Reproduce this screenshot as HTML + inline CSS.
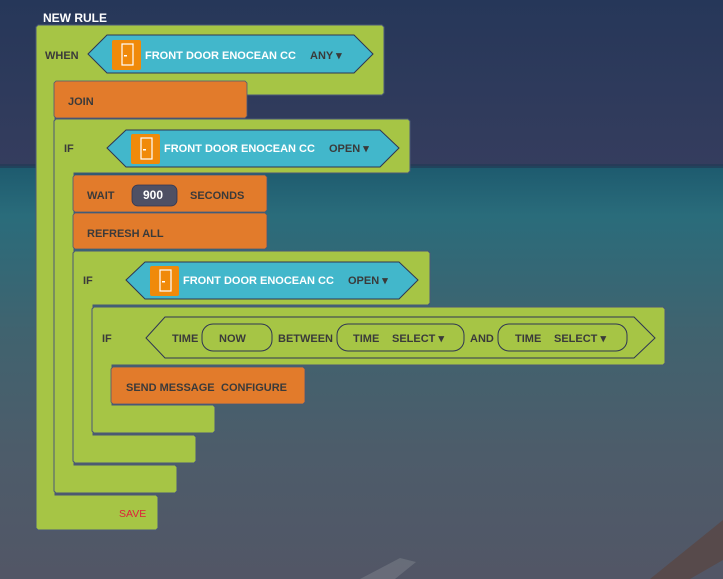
<!DOCTYPE html>
<html><head><meta charset="utf-8"><style>
html,body{margin:0;padding:0;}
body{width:723px;height:579px;overflow:hidden;background:#2f3a5a;}
svg{display:block;font-family:"Liberation Sans",sans-serif;}
</style></head><body>
<svg width="723" height="579" viewBox="0 0 723 579" xmlns="http://www.w3.org/2000/svg">
<defs>
<linearGradient id="sky" x1="0" y1="0" x2="0" y2="1">
<stop offset="0" stop-color="#263759"/><stop offset="1" stop-color="#353d5e"/>
</linearGradient>
<linearGradient id="sea" x1="0" y1="0" x2="0" y2="1">
<stop offset="0" stop-color="#1d5a6e"/><stop offset="0.12" stop-color="#2a6c7b"/>
<stop offset="0.4" stop-color="#40636f"/><stop offset="0.7" stop-color="#4d5c6a"/><stop offset="1" stop-color="#525666"/>
</linearGradient>
</defs>
<rect x="0" y="0" width="723" height="167" fill="url(#sky)"/>
<rect x="0" y="166" width="723" height="413" fill="url(#sea)"/>
<rect x="0" y="164" width="723" height="4" fill="#223a55" opacity="0.7"/>
<path d="M650 579 L723 520 L723 560 L690 579 Z" fill="#5a4440" opacity="0.7"/>
<path d="M360 579 L400 558 L416 562 L395 579 Z" fill="#8a8f95" opacity="0.4"/>

<text x="43" y="22" font-size="12" font-weight="bold" fill="#fff">NEW RULE</text>

<g stroke="#4a5878" stroke-width="1">
<path d="M38 25 H382 L384 27 V93 L382 95 H55 V495 H156 L158 497 V528 L156 530 H38 L36 528 V27 Z" fill="#a6c545"/>
<path d="M56 119 H408 L410 121 V171 L408 173 H74 V465 H175 L177 467 V491 L175 493 H56 L54 491 V121 Z" fill="#a6c545"/>
<path d="M75 251 H428 L430 253 V303 L428 305 H93 V435 H194 L196 437 V461 L194 463 H75 L73 461 V253 Z" fill="#a6c545"/>
<path d="M94 307 H663 L665 309 V363 L663 365 H112 V405 H213 L215 407 V431 L213 433 H94 L92 431 V309 Z" fill="#a6c545"/>
</g>
<g stroke="#4a5878" stroke-width="0.8" fill="#e27b2b">
<path d="M56 81 H245 L247 83 V116 L245 118 H56 L54 116 V83 Z"/>
<path d="M75 175 H265 L267 177 V210 L265 212 H75 L73 210 V177 Z"/>
<path d="M75 213 H265 L267 215 V247 L265 249 H75 L73 247 V215 Z"/>
<path d="M113 367 H303 L305 369 V402 L303 404 H113 L111 402 V369 Z"/>
</g>

<g fill="#42b7cb" stroke="#2e3553" stroke-width="1">
<path d="M88 54 L107 35 H354 L373 54 L354 73 H107 Z"/>
<path d="M107 148 L126 130 H380 L399 148 L380 167 H126 Z"/>
<path d="M126 280 L145 262 H399 L418 280 L399 299 H145 Z"/>
</g>
<g>
<rect x="112" y="40" width="29" height="30" rx="2" fill="#f08a0a"/>
<rect x="122" y="44" width="11" height="21" fill="none" stroke="#fff" stroke-width="1.2"/>
<rect x="124" y="55" width="3" height="1.5" fill="#fff"/>
<rect x="131" y="134" width="29" height="30" rx="2" fill="#f08a0a"/>
<rect x="141" y="138" width="11" height="21" fill="none" stroke="#fff" stroke-width="1.2"/>
<rect x="143" y="149" width="3" height="1.5" fill="#fff"/>
<rect x="150" y="266" width="29" height="30" rx="2" fill="#f08a0a"/>
<rect x="160" y="270" width="11" height="21" fill="none" stroke="#fff" stroke-width="1.2"/>
<rect x="162" y="281" width="3" height="1.5" fill="#fff"/>
</g>

<g fill="none" stroke="#2e3553" stroke-width="1">
<path d="M146 338 L165 317 H634 L655 338 L634 358 H165 Z" fill="#a6c545"/>
<rect x="202" y="324" width="70" height="27" rx="11"/>
<rect x="337" y="324" width="127" height="27" rx="11"/>
<rect x="498" y="324" width="129" height="27" rx="11"/>
</g>
<rect x="132" y="185" width="45" height="21" rx="6" fill="#4e5064" stroke="#2e3553" stroke-width="0.8"/>

<g font-size="11" font-weight="bold" fill="#3a3a3a">
<text x="45" y="59">WHEN</text>
<text x="68" y="105">JOIN</text>
<text x="64" y="152">IF</text>
<text x="87" y="199">WAIT</text>
<text x="190" y="199">SECONDS</text>
<text x="87" y="237">REFRESH ALL</text>
<text x="83" y="284">IF</text>
<text x="102" y="342">IF</text>
<text x="172" y="342">TIME</text>
<text x="219" y="342">NOW</text>
<text x="278" y="342">BETWEEN</text>
<text x="353" y="342">TIME</text>
<text x="392" y="342">SELECT ▾</text>
<text x="470" y="342">AND</text>
<text x="515" y="342">TIME</text>
<text x="554" y="342">SELECT ▾</text>
<text x="126" y="391">SEND MESSAGE</text>
<text x="221" y="391">CONFIGURE</text>
<text x="310" y="59">ANY ▾</text>
<text x="329" y="152">OPEN ▾</text>
<text x="348" y="284">OPEN ▾</text>
</g>
<g font-size="11" font-weight="bold" fill="#fff">
<text x="145" y="59">FRONT DOOR ENOCEAN CC</text>
<text x="164" y="152">FRONT DOOR ENOCEAN CC</text>
<text x="183" y="284">FRONT DOOR ENOCEAN CC</text>
<text x="143" y="199" font-size="12">900</text>
</g>
<text x="119" y="517" font-size="10.5" fill="#e0203a">SAVE</text>
</svg>
</body></html>
